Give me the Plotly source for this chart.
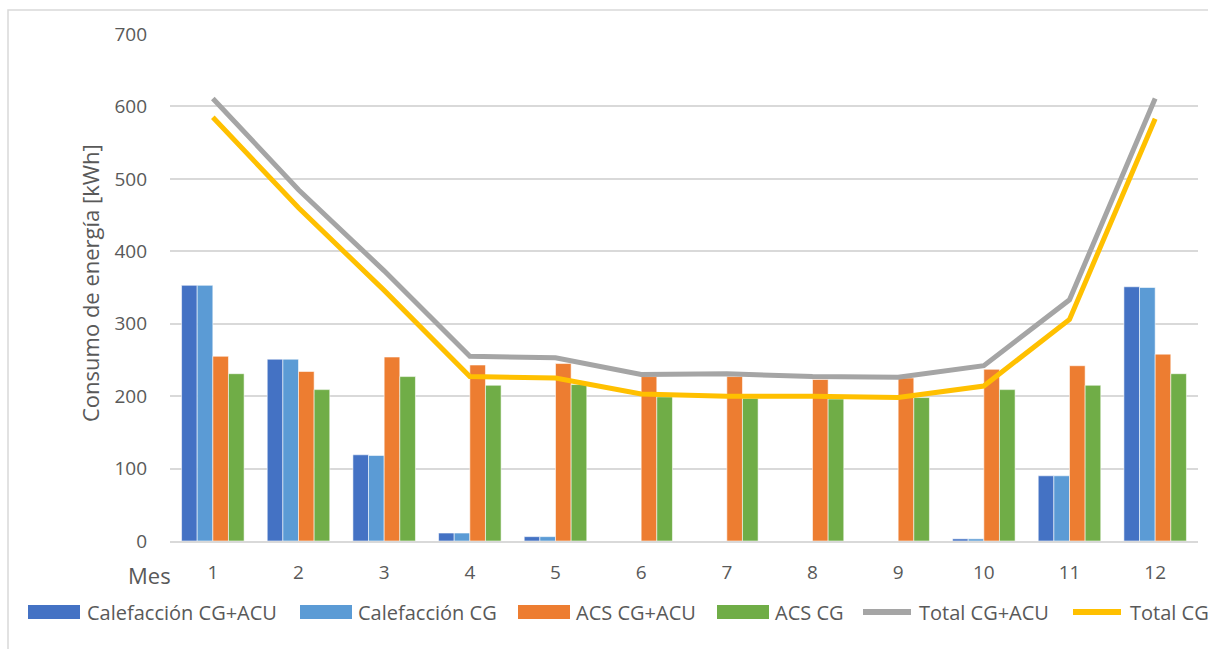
import plotly.graph_objects as go

# Monthly energy consumption [kWh]
meses = list(range(1, 13))
calef_cg_acu = [353, 251, 119, 11, 6, 0, 0, 0, 0, 3, 90, 351]
calef_cg = [353, 251, 118, 11, 6, 0, 0, 0, 0, 3, 90, 350]
acs_cg_acu = [255, 234, 254, 243, 245, 227, 227, 223, 225, 237, 242, 258]
acs_cg = [231, 209, 227, 215, 216, 199, 197, 196, 198, 209, 215, 231]
total_cg_acu = [611, 485, 373, 255, 253, 230, 231, 227, 226, 242, 333, 611]
total_cg = [585, 460, 346, 227, 225, 203, 200, 200, 198, 214, 306, 583]

nombres = ["Calefacción CG+ACU", "Calefacción CG", "ACS CG+ACU", "ACS CG",
           "Total CG+ACU", "Total CG"]
colores = ["#4472C4", "#5B9BD5", "#ED7D31", "#70AD47", "#A5A5A5", "#FFC000"]

FONT = "Open Sans"
TXT = "#595959"
GRID = "#D9D9D9"

fig = go.Figure()
for vals, name, col in zip([calef_cg_acu, calef_cg, acs_cg_acu, acs_cg],
                           nombres[:4], colores[:4]):
    fig.add_trace(go.Bar(x=meses, y=vals, name=name, marker_color=col,
                         marker_line=dict(width=0.8, color="rgba(255,255,255,0.7)"),
                         showlegend=False))
for vals, name, col in zip([total_cg_acu, total_cg], nombres[4:], colores[4:]):
    fig.add_trace(go.Scatter(x=meses, y=vals, name=name, mode="lines",
                             line=dict(color=col, width=5), showlegend=False))

# plot area geometry (pixels) used to place frame and legend
W, H = 1208, 649
L, R, T, B = 170, 10, 34, 108
pw, ph = W - L - R, H - T - B


def px_x(x):
    return (x - L) / pw


def px_y(y):
    return (H - B - y) / ph


shapes = [dict(type="rect", xref="paper", yref="paper",
               x0=px_x(8), x1=px_x(W + 20), y0=px_y(10), y1=px_y(H + 20),
               line=dict(color=GRID, width=1.5), fillcolor="rgba(0,0,0,0)")]
annotations = []

# custom legend row
leg_y = 612
items = [(28, 85), (300, 356), (518, 574), (717, 773), (861, 917), (1071, 1128)]
for i, ((sx, tx), name, col) in enumerate(zip(items, nombres, colores)):
    if i < 4:
        shapes.append(dict(type="rect", xref="paper", yref="paper",
                           x0=px_x(sx), x1=px_x(sx + 52),
                           y0=px_y(leg_y - 7), y1=px_y(leg_y + 7),
                           fillcolor=col, line=dict(width=0)))
    else:
        shapes.append(dict(type="line", xref="paper", yref="paper",
                           x0=px_x(sx + 2), x1=px_x(sx + 50),
                           y0=px_y(leg_y), y1=px_y(leg_y),
                           line=dict(color=col, width=6)))
    annotations.append(dict(text=name, xref="paper", yref="paper",
                            x=px_x(tx), y=px_y(leg_y), xanchor="left",
                            yanchor="middle", showarrow=False,
                            font=dict(family=FONT, size=20, color=TXT)))

annotations.append(dict(text="Consumo de energía [kWh]", xref="paper", yref="paper",
                        x=px_x(90), y=px_y(283), textangle=-90, showarrow=False,
                        xanchor="center", yanchor="middle",
                        font=dict(family=FONT, size=22, color=TXT)))
annotations.append(dict(text="Mes", xref="paper", yref="paper",
                        x=px_x(149), y=px_y(575), showarrow=False,
                        xanchor="center", yanchor="middle",
                        font=dict(family=FONT, size=22, color=TXT)))

fig.update_layout(
    width=W, height=H,
    margin=dict(l=L, r=R, t=T, b=B),
    paper_bgcolor="white", plot_bgcolor="white",
    barmode="group", bargap=0.27, bargroupgap=0,
    font=dict(family=FONT, size=19, color=TXT),
    shapes=shapes, annotations=annotations,
    xaxis=dict(range=[0.5, 12.5], tickvals=meses, showgrid=False,
               showline=True, linecolor=GRID, linewidth=1.5,
               ticks="", ticklabelstandoff=13,
               tickfont=dict(family=FONT, size=19, color=TXT), zeroline=False),
    yaxis=dict(range=[0, 700], dtick=100, showgrid=True, gridcolor=GRID,
               gridwidth=1.5, showline=False, zeroline=False, ticks="",
               ticklabelstandoff=22,
               tickfont=dict(family=FONT, size=19, color=TXT)),
)

fig.write_html("out.html")
